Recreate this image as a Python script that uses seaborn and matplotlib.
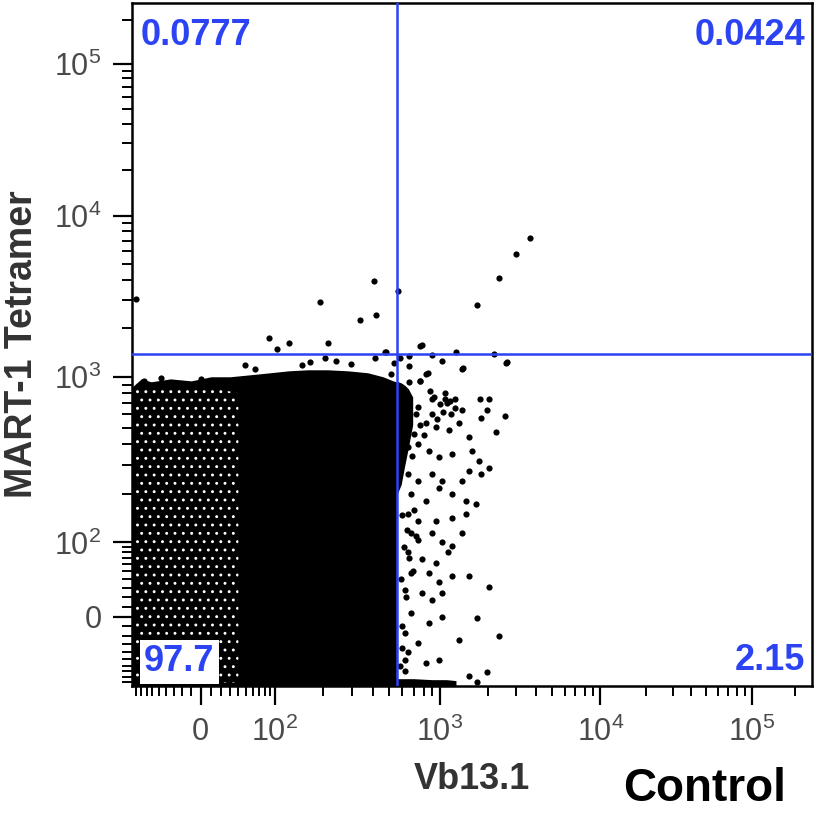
import numpy as np
import pandas as pd
import matplotlib
matplotlib.use("Agg")
import matplotlib.pyplot as plt
import seaborn as sns
from matplotlib.ticker import FixedLocator, NullFormatter

# ---------------------------------------------------------------- data
# Gate thresholds (fluorescence units)
gate_vb131 = 558
gate_mart1 = 1390

# Quadrant frequencies (%)
q_upper_left = "0.0777"
q_upper_right = "0.0424"
q_lower_left = "97.7"
q_lower_right = "2.15"

# Main population envelope: Vb13.1 positions with lower / upper MART-1 bounds
core_vb = [-100, -80, -62, -34, -10, 10, 30, 56, 90, 123, 162, 214, 283, 373, 460, 528, 560]
core_lo = [-100] * 17
core_hi = [869, 972, 934, 972, 946, 1000, 1000, 1029, 1059, 1089, 1105, 1105, 1089, 1059, 1000, 946, 930]

# Fringe of the population just past the Vb13.1 gate
fringe_vb = [558, 590, 620, 650, 690]
fringe_lo = [200, 230, 300, 380, 520]
fringe_hi = [940, 920, 890, 850, 760]

# Events piled on the lower MART-1 boundary
floor_vb = [560, 700, 900, 1100, 1260]
floor_lo = [-100, -100, -100, -100, -100]
floor_hi = [-84, -84, -86, -86, -88]

# Sparser dim-dim area on the left of the plot
sparse_vb = [-93, -60, -20, 20, 40]
sparse_lo = [-92, -92, -92, -92, -92]
sparse_hi = [840, 860, 860, 840, 800]

# Individual events outside the main population
event_vb = [
    -91, 87.5, 123, 103, 192, 214, 334, 415, 409, 566, 1700, 2325, 2990, 3650,
    758, 779, 479, 1257, 2165, 895, 660, 1029, 2590, 1395, 535, 847, 660, 758,
    660, 514, 580, -47, -75, 0, 49, 63, 148, 167, 206, 240, 295, 411, 473,
    758, 823, 1370, 2608, 590, 747, 895, 1074, 1240, 1780, 2015, 1960, 2560,
    2227, 1800, 650, 823, 946, 1137, 1312, 1370, 1515, 650, 859, 986, 1190,
    1582, 1745, 2015, 650, 747, 895, 1029, 1370, 1515, 1800, 678, 823, 986,
    1190, 1450, 1675, 650, 747, 946, 1190, 1450, 678, 747, 895, 1029, 1190,
    1370, 650, 779, 946, 1120, 678, 859, 986, 1190, 1515, 620, 779, 895, 1029,
    2015, 678, 859, 1029, 1700, 620, 747, 1312, 2325, 620, 823, 986, 1960,
    1700, 1515,
    600, 640, 700, 610, 660, 720, 590, 630, 690, 600, 650, 580, 620, 600,
    870, 920, 1000, 1080, 1150, 1250, 900, 960, 1040, 1100, 1180,
    720, 760, 700, 740, 680, 800,
]
event_mart1 = [
    3050, 1745, 1625, 1494, 2920, 1625, 2260, 2430, 3945, 3420, 2800, 4120, 5800, 7290,
    1545, 1580, 1435, 1430, 1390, 1370, 1350, 1262, 1221, 1138, 1221, 1059, 1170, 940,
    935, 1044, 1310, 985, 946, 972, 1188, 1121, 1188, 1240, 1305, 1245, 1205, 1310, 1430,
    950, 1044, 1121, 1240, 770, 667, 736, 736, 736, 736, 736, 640, 585,
    470, 573, 556, 531, 507, 484, 535, 640, 439, 383, 366, 333, 350,
    366, 319, 290, 266, 241, 266, 241, 241, 278, 266, 201, 182, 218,
    201, 182, 175, 152, 138, 138, 144, 152, 115, 104, 115, 100, 92,
    115, 80, 68, 63, 80, 48, 48, 36, 44, 44, 27, 24, 17, 24,
    31, 4, -6, 0, -1, -17, -29, -25, -21, -51, -56, -51, -71,
    -92, -79,
    150, 120, 160, 90, 70, 110, 40, 20, 50, -10, -40, -60, -70, -35,
    820, 760, 690, 800, 720, 650, 600, 560, 620, 700, 600,
    600, 520, 460, 400, 340, 450,
]

# Axis ticks
major_ticks = [0, 100, 1000, 10000, 100000]
major_labels = ["0", r"$\mathregular{10^2}$", r"$\mathregular{10^3}$",
                r"$\mathregular{10^4}$", r"$\mathregular{10^5}$"]
axis_min, axis_max = -100, 262144

# ---------------------------------------------------------------- biexponential-style scale
_C = 50.0
_anchor_v = np.array([-100.0, 0.0, 100.0, 1e3, 1e4, 1e5, 262144.0])
_anchor_p = np.array([0.0, 69.0, 143.5, 309.0, 470.0, 622.0, 682.5])
_anchor_u = np.arcsinh(_anchor_v / _C)


def _lin(x, xp, fp):
    x = np.asarray(x, dtype=float)
    y = np.interp(x, xp, fp)
    lo = x < xp[0]
    hi = x > xp[-1]
    y = np.where(lo, fp[0] + (x - xp[0]) * (fp[1] - fp[0]) / (xp[1] - xp[0]), y)
    y = np.where(hi, fp[-1] + (x - xp[-1]) * (fp[-1] - fp[-2]) / (xp[-1] - xp[-2]), y)
    return y


def biex_forward(v):
    return _lin(np.arcsinh(np.asarray(v, dtype=float) / _C), _anchor_u, _anchor_p)


def biex_inverse(p):
    return _C * np.sinh(_lin(p, _anchor_p, _anchor_u))


minor_ticks = ([-s * 10 for s in range(1, 10)] + [s * 10 for s in range(1, 10)]
               + [m * 10 ** e for e in (2, 3, 4) for m in range(2, 10)] + [200000])

# ---------------------------------------------------------------- figure
sns.set_theme(style="ticks")
plt.rcParams["font.family"] = ["Liberation Sans", "DejaVu Sans"]
plt.rcParams["mathtext.fontset"] = "custom"
plt.rcParams["mathtext.rm"] = "Liberation Sans"
plt.rcParams["hatch.linewidth"] = 0.9

BLUE = "#2b43f2"
TICK_GREY = "#4a4a4a"

fig = plt.figure(figsize=(8.19, 8.13), dpi=100)
ax = fig.add_axes([132 / 819, (813 - 686) / 813, 680 / 819, 683 / 813])

ax.set_xscale("function", functions=(biex_forward, biex_inverse))
ax.set_yscale("function", functions=(biex_forward, biex_inverse))
ax.set_xlim(axis_min, axis_max)
ax.set_ylim(axis_min, axis_max)

# dense population
ax.fill_between(core_vb, core_lo, core_hi, color="black", lw=0, zorder=2)
ax.fill_between(fringe_vb, fringe_lo, fringe_hi, color="black", lw=0, zorder=2)
ax.fill_between(floor_vb, floor_lo, floor_hi, color="black", lw=0, zorder=2)
ax.fill_between(sparse_vb, sparse_lo, sparse_hi, facecolor="none", edgecolor="white",
                hatch="..", lw=0, zorder=3)

events = pd.DataFrame({"Vb13.1": event_vb, "MART-1 Tetramer": event_mart1})
sns.scatterplot(data=events, x="Vb13.1", y="MART-1 Tetramer", ax=ax, color="black",
                s=20, linewidth=0, marker="o", zorder=4)

# quadrant gate
ax.axvline(gate_vb131, color=BLUE, lw=1.8, zorder=5)
ax.axhline(gate_mart1, color=BLUE, lw=1.8, zorder=5)

qkw = dict(transform=ax.transAxes, color=BLUE, fontsize=26, fontweight="bold", zorder=6)
ax.text(0.012, 0.978, q_upper_left, ha="left", va="top", **qkw)
ax.text(0.99, 0.978, q_upper_right, ha="right", va="top", **qkw)
ax.text(0.99, 0.012, q_lower_right, ha="right", va="bottom", **qkw)
ax.text(0.018, 0.01, q_lower_left, ha="left", va="bottom",
        bbox=dict(facecolor="white", edgecolor="none", pad=3), **qkw)

# axes styling
for axis in (ax.xaxis, ax.yaxis):
    axis.set_major_locator(FixedLocator(major_ticks))
    axis.set_minor_locator(FixedLocator(minor_ticks))
    axis.set_minor_formatter(NullFormatter())
ax.set_xticklabels(major_labels)
ax.set_yticklabels(major_labels)
ax.tick_params(which="major", length=14, width=1.6, color="black", labelsize=22,
               labelcolor=TICK_GREY, pad=8, direction="out")
ax.tick_params(which="minor", length=7, width=1.4, color="black", direction="out")
for sp in ax.spines.values():
    sp.set_color("black")
    sp.set_linewidth(1.8)

ax.set_xlabel("Vb13.1", fontsize=26, fontweight="bold", color="#333333", labelpad=10)
ax.set_ylabel("MART-1 Tetramer", fontsize=27, fontweight="bold", color="#333333", labelpad=10)
fig.text(705 / 819, 1 - 789 / 813, "Control", fontsize=33, fontweight="bold",
         color="black", ha="center", va="center")

fig.savefig("out.png", dpi=100)
